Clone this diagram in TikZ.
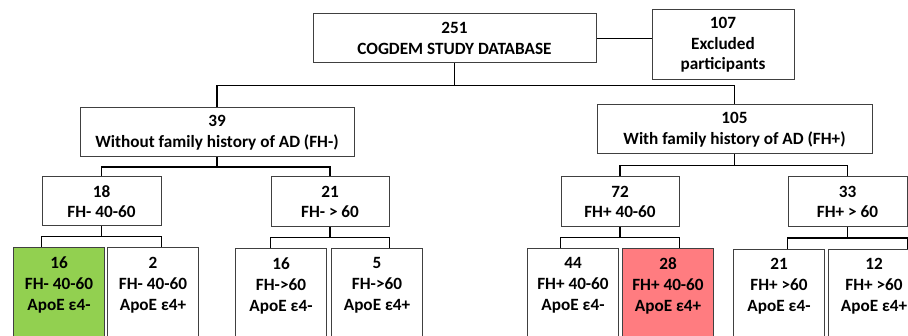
\documentclass[tikz,border=0pt]{standalone}
\usepackage{fontspec}
\setmainfont{Carlito}
\usepackage{tikz}
\usetikzlibrary{positioning,calc}
\definecolor{apogreen}{HTML}{92D050}
\definecolor{apored}{HTML}{FF7C80}

\begin{document}
\begin{tikzpicture}[x=1pt,y=1pt,
        box/.style={draw=black!75, line width=1pt, align=center, inner sep=0pt,
            font=\bfseries\fontsize{17.2}{20.5}\selectfont},
        leaf/.style={box, minimum width=91pt, inner ysep=9pt, text depth=70pt,
            font=\bfseries\fontsize{17.2}{21}\selectfont},
        link/.style={draw=black, line width=1.5pt}]
        \useasboundingbox (0,0) rectangle (908,-336);
        \clip (0,0) rectangle (908,-336);
        \node[box, minimum width=283pt, minimum height=49pt] (db) at (454.5,-38.5) {251\\COGDEM STUDY DATABASE};
        \node[box, minimum width=142pt, minimum height=70pt, right=55pt of db, yshift=-6.5pt] (excl) {107\\Excluded\\participants};
        \node[box, minimum width=274pt, minimum height=49pt] (fhneg) at (217,-132.5) {39\\Without family history of AD (FH-)};
        \node[box, minimum width=275pt, minimum height=49pt] (fhpos) at (734.5,-129.5) {105\\With family history of AD (FH+)};
        \node[box, minimum width=119pt, minimum height=49pt] (n18) at (101.5,-201.5) {18\\FH- 40-60};
        \node[box, minimum width=118pt, minimum height=50pt] (n21) at (330,-202) {21\\FH- > 60};
        \node[box, minimum width=118pt, minimum height=50pt] (n72) at (620,-202) {72\\FH+ 40-60};
        \node[box, minimum width=119pt, minimum height=50pt] (n33) at (847.5,-202) {33\\FH+ > 60};
        \node[leaf, fill=apogreen, anchor=north west] (g16) at (13,-247) {16\\FH- 40-60\\ApoE ε4-};
        \node[leaf, right=2pt of g16] (g2) {2\\FH- 40-60\\ApoE ε4+};
        \node[leaf, anchor=north west] (h16) at (235,-248) {16\\FH->60\\ApoE ε4-};
        \node[leaf, right=4pt of h16] (h5) {5\\FH->60\\ApoE ε4+};
        \node[leaf, anchor=north west] (p44) at (527,-248) {44\\FH+ 40-60\\ApoE ε4-};
        \node[leaf, fill=apored, right=3pt of p44] (p28) {28\\FH+ 40-60\\ApoE ε4+};
        \node[leaf, anchor=north west] (q21) at (733,-249) {21\\FH+ >60\\ApoE ε4-};
        \node[leaf, right=3pt of q21] (q12) {12\\FH+ >60\\ApoE ε4+};
        \draw[link] (db.east) -- (db.east -| excl.west);
        \foreach \p/\l/\r in {db/fhneg/fhpos, fhneg/n18/n21, fhpos/n72/n33}{
            \draw[link] (\p.south) -- ($(\p.south)!.5!(\p.south |- \l.north)$) coordinate (m\p);
            \draw[link] (\l.north) |- (m\p) -| (\r.north);
        }
        \foreach \p/\l/\r in {n18/g16/g2, n21/h16/h5, n72/p44/p28, n33/q21/q12}{
            \draw[link] (\p.south) -- ($(\p.south)!.5!(\p.south |- \l.north)$) coordinate (m\p);
            \draw[link] (\p.south west |- \l.north) |- (m\p) -| (\p.south east |- \r.north);
        }
    \end{tikzpicture}
\end{document}
